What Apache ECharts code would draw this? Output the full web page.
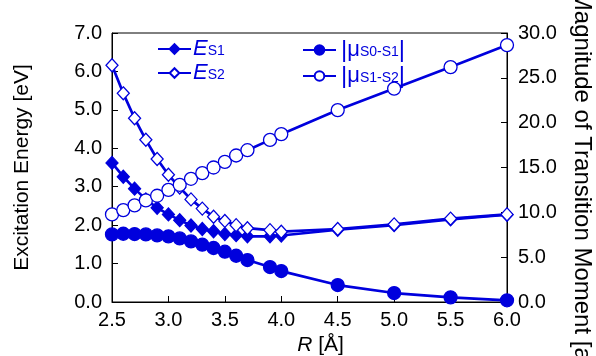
<!DOCTYPE html>
<html><head><meta charset="utf-8">
<script src="https://cdn.jsdelivr.net/npm/echarts@6/dist/echarts.min.js"></script>
<style>html,body{margin:0;padding:0;background:#fff}#c{width:596px;height:356px}</style>
</head><body><div id="c"></div>
<script>
var R = [2.5, 2.6, 2.7, 2.8, 2.9, 3.0, 3.1, 3.2, 3.3, 3.4, 3.5, 3.6, 3.7, 3.9, 4.0, 4.5, 5.0, 5.5, 6.0];
var ES1 = [3.62, 3.26, 2.95, 2.67, 2.45, 2.28, 2.13, 1.99, 1.90, 1.84, 1.77, 1.74, 1.71, 1.71, 1.73, 1.88, 2.00, 2.15, 2.27];
var ES2 = [6.16, 5.43, 4.78, 4.22, 3.72, 3.31, 2.98, 2.67, 2.43, 2.22, 2.11, 2.00, 1.92, 1.87, 1.83, 1.90, 2.02, 2.17, 2.28];
var MU01 = [7.54, 7.61, 7.58, 7.54, 7.43, 7.32, 7.09, 6.76, 6.39, 6.02, 5.61, 5.16, 4.68, 3.90, 3.45, 1.89, 1.00, 0.52, 0.19];
var MU12 = [9.77, 10.25, 10.77, 11.33, 11.85, 12.51, 13.07, 13.74, 14.37, 15.00, 15.63, 16.34, 16.93, 18.08, 18.72, 21.4, 23.8, 26.2, 28.65];
var xTicks = [2.5, 3.0, 3.5, 4.0, 4.5, 5.0, 5.5, 6.0];

var BLUE = '#0000dd';
var FONT = 'Liberation Sans';
function pairs(ys){ return R.map(function(x,i){ return [x, ys[i]]; }); }

var chart = echarts.init(document.getElementById('c'), null, {renderer:'canvas'});
var legendRich = {
  e: {fontSize: 22, fontStyle: 'italic', color: BLUE, fontFamily: FONT, lineHeight: 18},
  s: {fontSize: 14, color: BLUE, fontFamily: FONT, verticalAlign: 'bottom', lineHeight: 14, padding:[5,0,0,0]},
  mu: {fontSize: 22, color: BLUE, fontFamily: FONT, lineHeight: 18},
  bar: {fontSize: 24, color: BLUE, fontFamily: FONT, lineHeight: 18}
};
var labelMap = {
  ES1: '{e|E}{s|S1}', ES2: '{e|E}{s|S2}',
  MU01: '{bar||}{mu|μ}{s|S0-S1}{bar||}', MU12: '{bar||}{mu|μ}{s|S1-S2}{bar||}'
};
function lineSeries(name, data, yIdx, symbol, filled, z){
  return {
    name: name, type: 'line', data: pairs(data), yAxisIndex: yIdx,
    symbol: symbol, symbolSize: symbol === 'diamond' ? [12, 13] : 13,
    lineStyle: {color: BLUE, width: 2.7},
    itemStyle: {color: filled ? BLUE : '#fff', borderColor: BLUE, borderWidth: 1.3},
    emphasis: {disabled: true}, animation: false, z: z
  };
}
chart.setOption({
  animation: false,
  grid: {left: 112, right: 89, top: 33, bottom: 54, show: true, borderColor: '#000', borderWidth: 1,
         containLabel: false, outerBoundsMode: 'none'},
  legend: [
    {data: ['ES1', 'ES2'], orient: 'vertical', left: 152, top: 33, itemWidth: 33, itemHeight: 12, itemGap: 2,
     formatter: function(n){ return labelMap[n]; }, textStyle: {rich: legendRich, padding:[0,0,0,-3]}},
    {data: ['MU01', 'MU12'], orient: 'vertical', left: 297, top: 33, itemWidth: 33, itemHeight: 12, itemGap: 2,
     formatter: function(n){ return labelMap[n]; }, textStyle: {rich: legendRich}}
  ],
  xAxis: {
    type: 'value', min: 2.5, max: 6.0, interval: 0.5,
    name: '{i|R} [Å]', nameLocation: 'middle', nameGap: 30,
    nameTextStyle: {fontSize: 21, color: '#000', fontFamily: FONT, padding: [0,0,0,22],
      rich: {i: {fontStyle: 'italic', fontSize: 21, color: '#000', fontFamily: FONT}}},
    axisLine: {lineStyle: {color: '#000', width: 1}},
    axisTick: {inside: true, length: 6, lineStyle: {color: '#000'}},
    axisLabel: {fontSize: 20, color: '#000', fontFamily: FONT, margin: 8,
      formatter: function(v){ return v.toFixed(1); }},
    splitLine: {show: false}
  },
  yAxis: [
    {type: 'value', min: 0, max: 7, interval: 1, position: 'left',
     name: 'Excitation Energy [eV]', nameLocation: 'middle', nameGap: 79, nameRotate: 90,
     nameTextStyle: {fontSize: 21, color: '#000', fontFamily: FONT},
     axisLine: {show: true, lineStyle: {color: '#000', width: 1}},
     axisTick: {show: true, inside: true, length: 6, lineStyle: {color: '#000'}},
     axisLabel: {fontSize: 20, color: '#000', fontFamily: FONT, margin: 10,
       formatter: function(v){ return v.toFixed(1); }},
     splitLine: {show: false}},
    {type: 'value', min: 0, max: 30, interval: 5, position: 'right',
     name: 'Magnitude of Transition Moment [a.u.]', nameLocation: 'middle', nameGap: 63, nameRotate: -90,
     nameTextStyle: {fontSize: 24, color: '#000', fontFamily: FONT, padding: [0,0,0,50]},
     axisLine: {show: true, lineStyle: {color: '#000', width: 1}},
     axisTick: {show: true, inside: true, length: 6, lineStyle: {color: '#000'}},
     axisLabel: {fontSize: 20, color: '#000', fontFamily: FONT, margin: 11,
       formatter: function(v){ return v.toFixed(1); }},
     splitLine: {show: false}}
  ],
  series: [
    lineSeries('ES1', ES1, 0, 'diamond', true, 2),
    lineSeries('ES2', ES2, 0, 'diamond', false, 3),
    lineSeries('MU01', MU01, 1, 'circle', true, 4),
    lineSeries('MU12', MU12, 1, 'circle', false, 5)
  ]
});
</script></body></html>
